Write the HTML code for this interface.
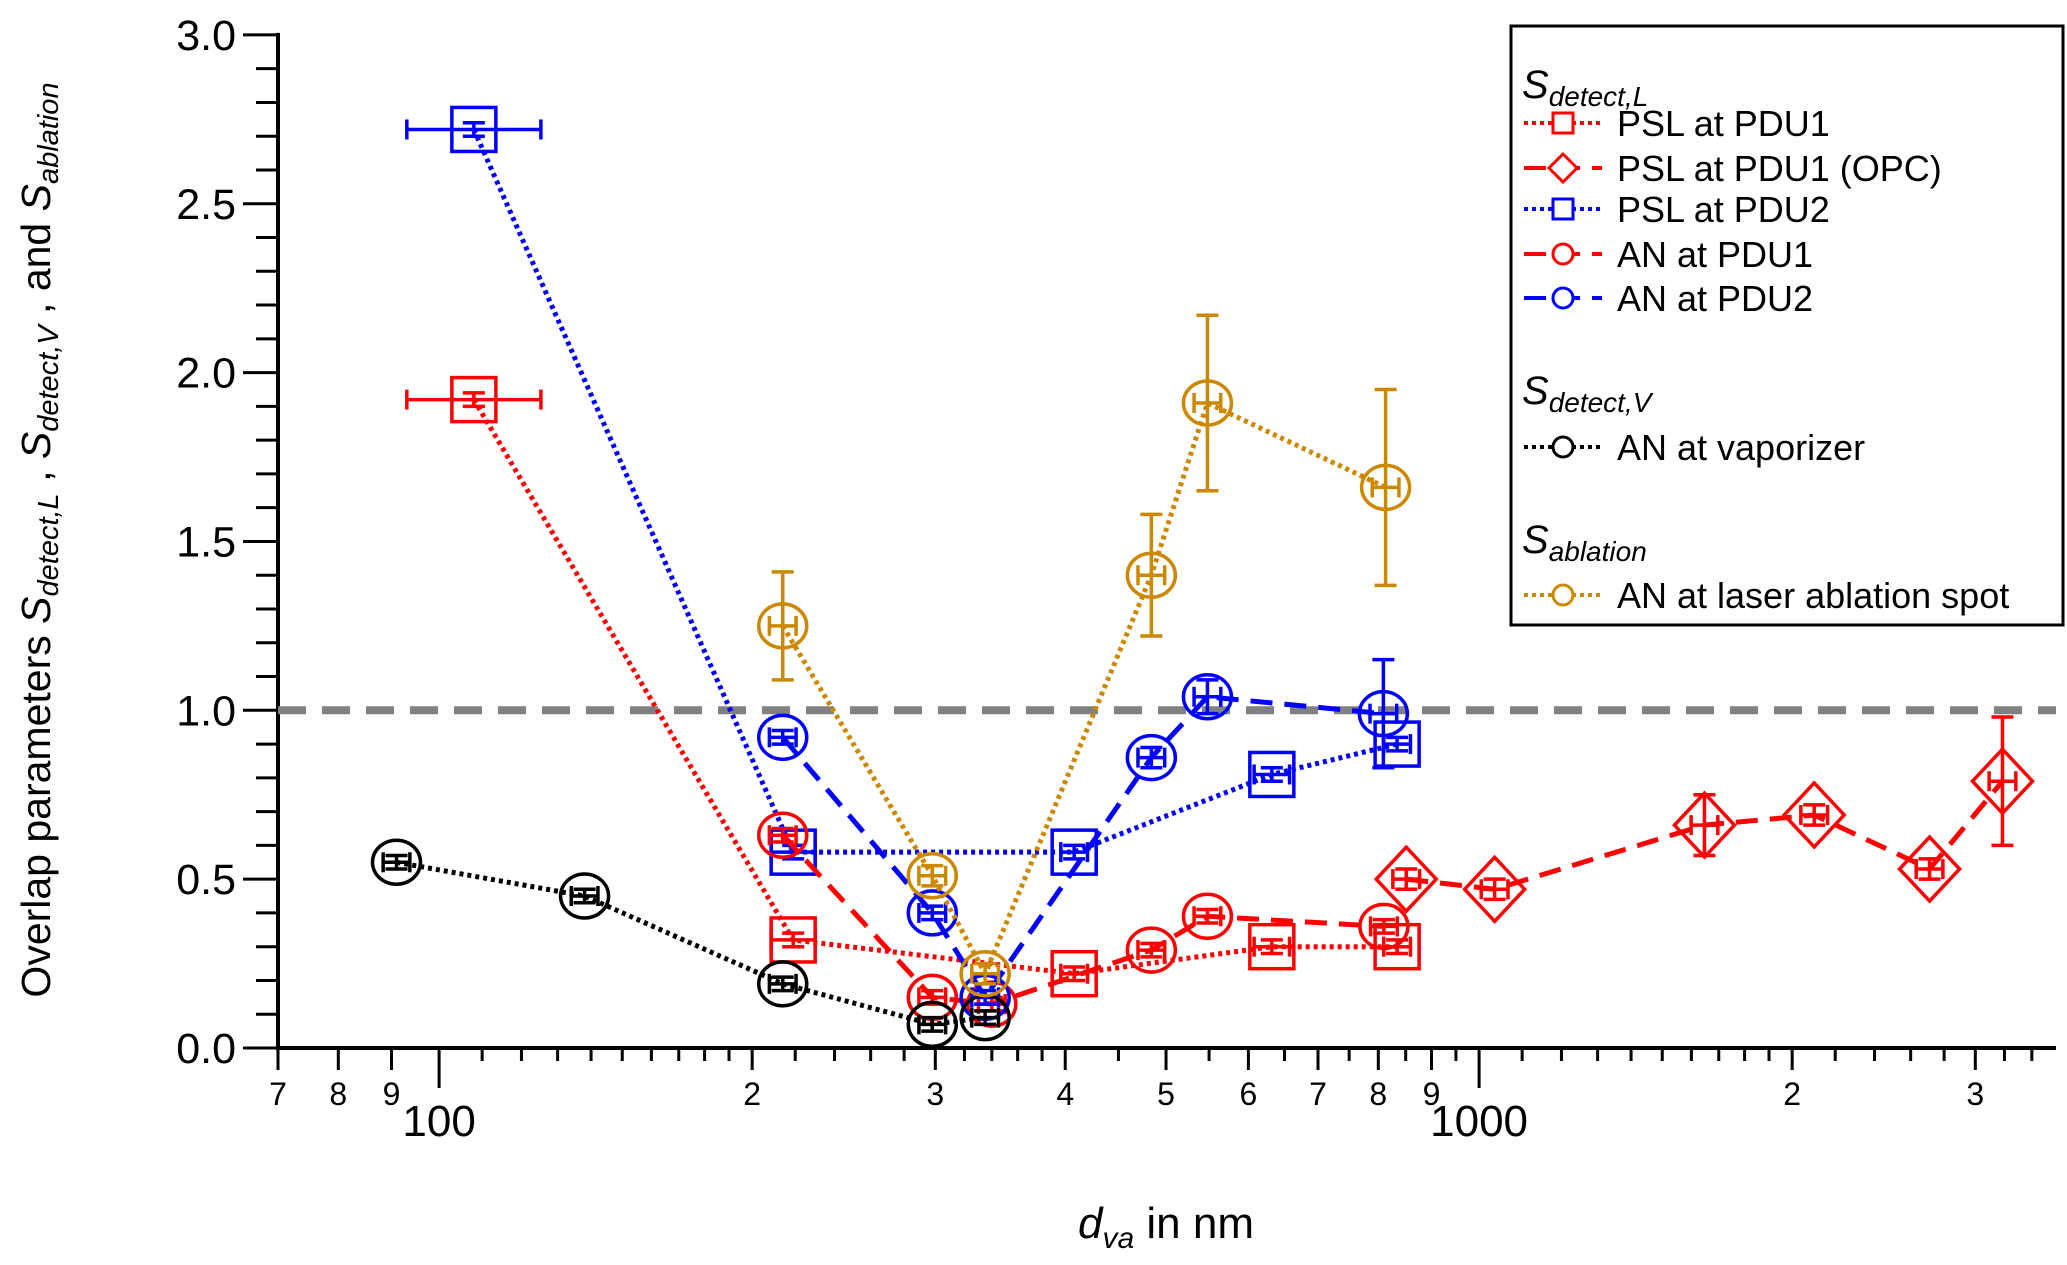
<!DOCTYPE html>
<html><head><meta charset="utf-8"><style>
html,body{margin:0;padding:0;background:#fff}
svg{display:block;font-family:"Liberation Sans",sans-serif}
</style></head><body>
<svg id="c" width="2067" height="1265" viewBox="0 0 2067 1265" xmlns="http://www.w3.org/2000/svg"></svg>
<script>
const pslPdu1X=[108,219,408,632,834];
const pslPdu1Y=[1.92,0.32,0.22,0.30,0.30];
const opcX=[851,1035,1647,2100,2711,3186];
const opcY=[0.50,0.47,0.66,0.69,0.53,0.79];
const opcErr=[0.03,0.03,0.09,0.03,0.03,0.19];
const pslPdu2X=[108,219,408,632,834];
const pslPdu2Y=[2.72,0.58,0.58,0.81,0.90];
const anPdu1X=[214,298,340,484,548,810];
const anPdu1Y=[0.63,0.15,0.13,0.29,0.39,0.36];
const anPdu2X=[214,298,335,484,548,809];
const anPdu2Y=[0.92,0.40,0.15,0.86,1.04,0.99];
const anPdu2Err=[0.02,0.02,0.02,0.03,0.05,0.16];
const vapX=[91,138,214,298,335];
const vapY=[0.55,0.45,0.19,0.07,0.09];
const ablX=[214,298,335,484,548,813];
const ablY=[1.25,0.51,0.22,1.40,1.91,1.66];
const ablErr=[0.16,0.03,0.03,0.18,0.26,0.29];
const yTicks=["0.0","0.5","1.0","1.5","2.0","2.5","3.0"];

const NS="http://www.w3.org/2000/svg";
const svg=document.getElementById('c');
const X0=278,X1=2056,Y0=1048,YS=337.7,DEC=1040,XMIN=70;
function sx(v){return X0+Math.log10(v/XMIN)*DEC;}
function sy(v){return Y0-v*YS;}
function mk(tag,attrs,parent){const e=document.createElementNS(NS,tag);for(const k in attrs)e.setAttribute(k,attrs[k]);(parent||svg).appendChild(e);return e;}

const ax=mk('g',{});


mk('line',{x1:X0,y1:sy(3)-2,x2:X0,y2:Y0+2,stroke:'#000','stroke-width':4},ax);
mk('line',{x1:X0,y1:Y0,x2:X1,y2:Y0,stroke:'#000','stroke-width':4},ax);
for(let i=0;i<=30;i++){const y=sy(i/10);const maj=i%5==0;mk('line',{x1:X0-(maj?35:22),y1:y,x2:X0,y2:y,stroke:'#000','stroke-width':3},ax);}
yTicks.forEach((t,i)=>{const e=mk('text',{x:X0-42,y:sy(i*0.5)+15,'text-anchor':'end','font-size':43},ax);e.textContent=t;

});
[100,1000].forEach(v=>{mk('line',{x1:sx(v),y1:Y0,x2:sx(v),y2:Y0+40,stroke:'#000','stroke-width':3},ax);const e=mk('text',{x:sx(v),y:Y0+88,'text-anchor':'middle','font-size':44},ax);e.textContent=String(v);

});
[70,80,90,200,300,400,500,600,700,800,900,2000,3000].forEach(v=>{mk('line',{x1:sx(v),y1:Y0,x2:sx(v),y2:Y0+22,stroke:'#000','stroke-width':3},ax);const e=mk('text',{x:sx(v),y:Y0+57,'text-anchor':'middle','font-size':32},ax);e.textContent=String(v<100?v/10:v<1000?v/100:v/1000);

});
[110,120,130,140,150,160,170,180,190,220,240,260,280,320,340,360,380,450,550,650,750,850,950,1100,1200,1300,1400,1500,1600,1700,1800,1900,2200,2400,2600,2800,3200,3400].forEach(v=>{mk('line',{x1:sx(v),y1:Y0,x2:sx(v),y2:Y0+13,stroke:'#000','stroke-width':3},ax);});

const ref=mk('line',{x1:X0,y1:sy(1),x2:X1,y2:sy(1),stroke:'#808080','stroke-width':8,'stroke-dasharray':'28,16'});



function series(name,xs,ys,color,dash,marker,errs,xerr){
  const g=mk('g',{});
  
  
  const pts=xs.map((x,i)=>sx(x)+','+sy(ys[i])).join(' ');
  mk('polyline',{points:pts,fill:'none',stroke:color,'stroke-width':dash=='4,4'?5:5,'stroke-dasharray':dash},g);
  xs.forEach((x,i)=>{
    const cx=sx(x),cy=sy(ys[i]);
    const m=mk('g',{},g);
    
    
    const e=errs?errs[i]:0.02;
    mk('line',{x1:cx,y1:sy(ys[i]+e),x2:cx,y2:sy(ys[i]-e),stroke:color,'stroke-width':3.5},m);
    mk('line',{x1:cx-11,y1:sy(ys[i]+e),x2:cx+11,y2:sy(ys[i]+e),stroke:color,'stroke-width':3.5},m);
    mk('line',{x1:cx-11,y1:sy(ys[i]-e),x2:cx+11,y2:sy(ys[i]-e),stroke:color,'stroke-width':3.5},m);
    const xe=(xerr&&xerr[i])?xerr[i]:0.03;
    const xl=sx(x/(1+xe)),xr=sx(x*(1+xe));
    mk('line',{x1:xl,y1:cy,x2:xr,y2:cy,stroke:color,'stroke-width':3.5},m);
    mk('line',{x1:xl,y1:cy-10,x2:xl,y2:cy+10,stroke:color,'stroke-width':3.5},m);
    mk('line',{x1:xr,y1:cy-10,x2:xr,y2:cy+10,stroke:color,'stroke-width':3.5},m);
    if(marker=='sq')mk('rect',{x:cx-22,y:cy-22,width:44,height:44,fill:'none',stroke:color,'stroke-width':3.5},m);
    else if(marker=='ci')mk('ellipse',{cx:cx,cy:cy,rx:24,ry:22,fill:'none',stroke:color,'stroke-width':3.5},m);
    else mk('polygon',{points:`${cx},${cy-32} ${cx+30},${cy} ${cx},${cy+32} ${cx-30},${cy}`,fill:'none',stroke:color,'stroke-width':3.5},m);
  });
}
const DOT='4,4',DASH='22,12';
series('psl-pdu1-series',pslPdu1X,pslPdu1Y,'#ff0000',DOT,'sq',null,[0.16,0.05,0.03,0.04,0.03]);
series('psl-pdu2-series',pslPdu2X,pslPdu2Y,'#0000ff',DOT,'sq',null,[0.16,0.05,0.03,0.04,0.03]);
series('an-pdu1-series',anPdu1X,anPdu1Y,'#ff0000',DASH,'ci');
series('an-pdu2-series',anPdu2X,anPdu2Y,'#0000ff',DASH,'ci',anPdu2Err);
series('psl-pdu1-opc-series',opcX,opcY,'#ff0000',DASH,'di',opcErr);
series('vaporizer-series',vapX,vapY,'#000000',DOT,'ci');
series('ablation-series',ablX,ablY,'#cc8800',DOT,'ci',ablErr);

const lg=mk('g',{});


mk('rect',{x:1511,y:26,width:552,height:599,fill:'#fff',stroke:'#000','stroke-width':3},lg);
function head(y,sub){const t=mk('text',{x:1522,y:y,'font-size':40,'font-style':'italic'},lg);t.innerHTML='S<tspan font-size="28" dy="8">'+sub+'</tspan>';}
function entry(y,label,color,dash,marker){
  const g=mk('g',{},lg);
  
  
  mk('line',{x1:1524,y1:y,x2:1602,y2:y,stroke:color,'stroke-width':4,'stroke-dasharray':dash},g);
  const cx=1563;
  if(marker=='sq')mk('rect',{x:cx-10,y:y-10,width:20,height:20,fill:'#fff',stroke:color,'stroke-width':3},g);
  else if(marker=='ci')mk('circle',{cx:cx,cy:y,r:10,fill:'#fff',stroke:color,'stroke-width':3},g);
  else mk('polygon',{points:`${cx},${y-14} ${cx+14},${y} ${cx},${y+14} ${cx-14},${y}`,fill:'#fff',stroke:color,'stroke-width':3},g);
  const t=mk('text',{x:1617,y:y+13,'font-size':36},g);t.textContent=label;
}
head(98,'detect,L');
entry(123,'PSL at PDU1','#ff0000',DOT,'sq');
entry(168,'PSL at PDU1 (OPC)','#ff0000',DASH,'di');
entry(209,'PSL at PDU2','#0000ff',DOT,'sq');
entry(254,'AN at PDU1','#ff0000',DASH,'ci');
entry(298,'AN at PDU2','#0000ff',DASH,'ci');
head(404,'detect,V');
entry(447,'AN at vaporizer','#000000',DOT,'ci');
head(553,'ablation');
entry(595,'AN at laser ablation spot','#cc8800',DOT,'ci');

const yt=mk('text',{x:0,y:0,'font-size':41,'text-anchor':'middle',transform:'translate(50,540) rotate(-90)'});
yt.innerHTML='Overlap parameters <tspan font-style="italic">S</tspan><tspan font-style="italic" font-size="29" dy="8">detect,L</tspan><tspan dy="-8"> , </tspan><tspan font-style="italic">S</tspan><tspan font-style="italic" font-size="29" dy="8">detect,V</tspan><tspan dy="-8"> , and </tspan><tspan font-style="italic">S</tspan><tspan font-style="italic" font-size="29" dy="8">ablation</tspan>';


const xt=mk('text',{x:1166,y:1238,'font-size':44,'text-anchor':'middle'});
xt.innerHTML='<tspan font-style="italic">d</tspan><tspan font-style="italic" font-size="30" dy="10">va</tspan><tspan dy="-10"> in nm</tspan>';


</script>
</body></html>
